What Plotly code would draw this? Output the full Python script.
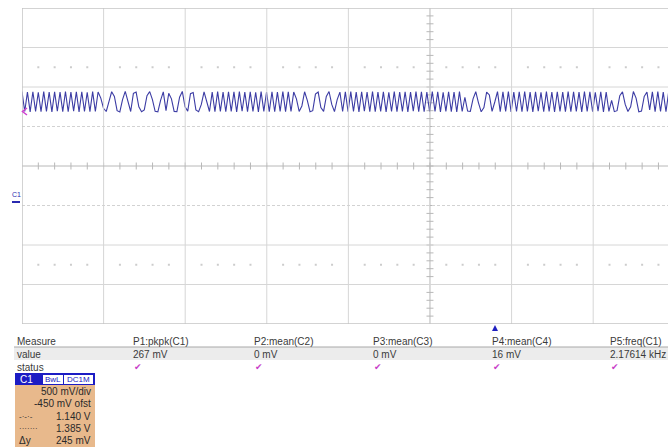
import numpy as np
import plotly.graph_objects as go

W, H = 668, 447

# ---- channel C1 acquisition (mV), one value per display sample ----
sample_step_div = 0.0333
c1_mv = [
    # fast section
    1392, 1140, 1386, 1136, 1390, 1142, 1384, 1138, 1391, 1141,
    1387, 1135, 1389, 1143, 1385, 1139, 1393, 1137, 1386, 1144,
    1388, 1136, 1390, 1141, 1384, 1138, 1391, 1140, 1387,
    # beat section
    1310, 1180, 1140, 1265, 1390, 1330, 1150, 1135, 1290, 1395,
    1250, 1140, 1370, 1385, 1200, 1138, 1160, 1340, 1392, 1290,
    1142, 1136, 1280, 1388, 1150, 1370, 1300, 1141, 1139, 1320,
    1394, 1200, 1145, 1365, 1380, 1160, 1137, 1230, 1389, 1260,
    1140,
    # fast section
    1386, 1139, 1391, 1142, 1385, 1137, 1390, 1141, 1388, 1135,
    1392, 1143, 1386, 1138, 1389, 1140, 1384, 1136, 1391, 1142,
    1387, 1139, 1390, 1137, 1385, 1141, 1393, 1138, 1388, 1140,
    1386,
    # beat section
    1300, 1140, 1210, 1390, 1280, 1137, 1150, 1360, 1386, 1190,
    1141, 1330, 1393, 1230, 1138, 1290, 1385, 1140,
    # fast section
    1388, 1138, 1391, 1141, 1385, 1136, 1390, 1143, 1387, 1139,
    1393, 1137, 1386, 1142, 1389, 1135, 1384, 1140, 1392, 1138,
    1387, 1141, 1390, 1136, 1385, 1143, 1391, 1139, 1388, 1137,
    1386, 1142, 1393, 1140, 1389, 1135, 1384, 1141, 1390, 1138,
    1387, 1136, 1392, 1140,
    # beat section
    1320, 1145, 1140, 1300, 1390, 1250, 1136, 1190, 1385, 1350,
    1142, 1260, 1391,
    # fast section
    1139, 1388, 1142, 1391, 1136, 1385, 1140, 1390, 1137, 1393,
    1141, 1386, 1135, 1389, 1143, 1384, 1138, 1392, 1140, 1387,
    1136, 1390, 1142, 1385, 1139, 1391, 1137, 1388, 1141, 1386,
    1135, 1393, 1140, 1389, 1138, 1384, 1143, 1390, 1136, 1387,
    1140,
    # beat section
    1280, 1138, 1150, 1340, 1388, 1230, 1140, 1200, 1392, 1310,
    1137, 1145, 1330, 1386, 1160,
    # fast section
    1389, 1138, 1392, 1141, 1386, 1137, 1390,
]

# channel settings
volts_per_div = 0.5
offset_v = -0.45
trigger_level_v = 1.14

# measurement panel
meas_labels = ["P1:pkpk(C1)", "P2:mean(C2)", "P3:mean(C3)", "P4:mean(C4)", "P5:freq(C1)"]
meas_values = ["267 mV", "0 mV", "0 mV", "16 mV", "2.17614 kHz"]
row_labels = ["Measure", "value", "status"]
c1_info = ["500 mV/div", "-450 mV ofst", "1.140 V", "1.385 V", "245 mV"]
c1_info_keys = ["", "", "-·-·-", "·······", "Δy"]

# ---- screen geometry ----
center_v = -offset_v
y_lo = center_v - 4 * volts_per_div
y_hi = center_v + 4 * volts_per_div
x_lo, x_hi = -5.0, 2.917


def px(x):
    return x / W


def py(y):
    return 1 - y / H


t = x_lo + sample_step_div * np.arange(len(c1_mv))
v = np.array(c1_mv) / 1000.0

GRID = "#d6d6d6"
AXC = "#b8b8b8"
FONT = "Liberation Sans"
TXT = "#3a3a3a"

fig = go.Figure()

# center-line subdivision ticks
sub_x = np.arange(x_lo + 0.2, x_hi, 0.2)
sub_y = np.arange(y_lo + 0.1, y_hi, 0.1)
fig.add_trace(go.Scatter(x=sub_x, y=[center_v] * len(sub_x), mode="markers",
                         marker=dict(symbol="line-ns", size=5, line=dict(width=1, color=AXC)),
                         hoverinfo="skip", showlegend=False))
fig.add_trace(go.Scatter(x=[0] * len(sub_y), y=sub_y, mode="markers",
                         marker=dict(symbol="line-ew", size=5, line=dict(width=1, color=AXC)),
                         hoverinfo="skip", showlegend=False))
# dotted rows at +-2.5 div
dot_x = [xx for xx in sub_x if abs(xx - round(xx)) > 0.05]
for yy in (center_v + 2.5 * volts_per_div, center_v - 2.5 * volts_per_div):
    fig.add_trace(go.Scatter(x=dot_x, y=[yy] * len(dot_x), mode="markers",
                             marker=dict(symbol="square", size=2, color="#cccccc", line=dict(width=0)),
                             hoverinfo="skip", showlegend=False))

# C1 waveform
fig.add_trace(go.Scatter(x=t, y=v, mode="lines",
                         line=dict(color="#3c3ca4", width=1.1),
                         hoverinfo="skip", showlegend=False))

shapes = []
# grid lines
for k in range(-4, 3):
    shapes.append(dict(type="line", xref="x", yref="y", x0=k, x1=k, y0=y_lo, y1=y_hi,
                       line=dict(color=AXC if k == 0 else GRID, width=1)))
for k in range(-3, 4):
    yy = center_v + k * volts_per_div
    if abs(k) == 1:
        shapes.append(dict(type="line", xref="x", yref="y", x0=x_lo, x1=x_hi, y0=yy, y1=yy,
                           line=dict(color="#d2d2d2", width=1, dash="3px,2px")))
    else:
        shapes.append(dict(type="line", xref="x", yref="y", x0=x_lo, x1=x_hi, y0=yy, y1=yy,
                           line=dict(color=AXC if k == 0 else GRID, width=1)))
# screen border (left, top, bottom)
for (x0, y0, x1, y1) in [(x_lo, y_lo, x_lo, y_hi), (x_lo, y_hi, x_hi, y_hi), (x_lo, y_lo, x_hi, y_lo)]:
    shapes.append(dict(type="line", xref="x", yref="y", x0=x0, x1=x1, y0=y0, y1=y1,
                       line=dict(color="#c4c4c4", width=1.5)))

# trigger level arrow on the left edge
trig_py = 166 - (trigger_level_v - center_v) / volts_per_div * 39.5
shapes.append(dict(type="path", xref="paper", yref="paper",
                   path=f"M {px(27)} {py(trig_py - 3.5)} L {px(22.5)} {py(trig_py)} L {px(27)} {py(trig_py + 3.5)}",
                   line=dict(color="#d040d0", width=1.5)))

# measurement table background
shapes.append(dict(type="rect", xref="paper", yref="paper", x0=px(14), x1=1, y0=py(360), y1=py(347),
                   fillcolor="#ececec", line=dict(width=0), layer="below"))
shapes.append(dict(type="line", xref="paper", yref="paper", x0=px(14), x1=1, y0=py(347), y1=py(347),
                   line=dict(color="#a8a8a8", width=1)))
# trigger position marker
shapes.append(dict(type="path", xref="paper", yref="paper",
                   path=f"M {px(492)} {py(331)} L {px(498)} {py(331)} L {px(495)} {py(325)} Z",
                   fillcolor="#2020c0", line=dict(width=0)))
# C1 descriptor box
shapes.append(dict(type="rect", xref="paper", yref="paper", x0=px(15), x1=px(95), y0=py(447), y1=py(385),
                   fillcolor="#e8b98c", line=dict(width=0)))
shapes.append(dict(type="rect", xref="paper", yref="paper", x0=px(15), x1=px(95), y0=py(385), y1=py(373),
                   fillcolor="#1c1cc4", line=dict(width=0)))
shapes.append(dict(type="rect", xref="paper", yref="paper", x0=px(43), x1=px(63), y0=py(384), y1=py(375),
                   fillcolor="white", line=dict(width=0)))
shapes.append(dict(type="rect", xref="paper", yref="paper", x0=px(64), x1=px(93), y0=py(384), y1=py(375),
                   fillcolor="white", line=dict(width=0)))
# ground reference marker
shapes.append(dict(type="line", xref="paper", yref="paper", x0=px(12), x1=px(20), y0=py(202), y1=py(202),
                   line=dict(color="#2a2ab0", width=2)))

ann = []


def text(x, y, s, size=10, color=TXT, anchor="left", family=FONT, **kw):
    ann.append(dict(xref="paper", yref="paper", x=px(x), y=py(y), text=s, showarrow=False,
                    xanchor=anchor, yanchor="middle",
                    font=dict(family=family, size=size, color=color), **kw))


col_x = [131, 252, 371, 490, 608]
for lbl, yy in zip(row_labels, [341, 354, 367]):
    text(15, yy, lbl)
for xx, lbl, val in zip(col_x, meas_labels, meas_values):
    text(xx, 341, lbl)
    text(xx, 354, val)
    text(xx + 1, 367, "✔", size=9, color="#c83cc8", family="DejaVu Sans")

# C1 box contents
text(18, 379, "C1", size=10, color="white")
text(53, 379.5, "BwL", size=8, color="#2020c0", anchor="center")
text(78.5, 379.5, "DC1M", size=8, color="#2020c0", anchor="center")
for yy, val, key in zip([391, 403.5, 416, 428.5, 440.5], c1_info, c1_info_keys):
    text(93, yy, val, color="#2a2a2a", anchor="right")
    if key:
        text(17, yy, key, size=8 if key != "Δy" else 10, color="#2a2a2a")

text(16, 195, "C1", size=7, color="#2a2ab0", anchor="center")

fig.update_layout(
    width=W, height=H,
    margin=dict(l=0, r=0, t=0, b=0),
    paper_bgcolor="white", plot_bgcolor="white",
    xaxis=dict(domain=[px(22), 1], range=[x_lo, x_hi], visible=False, fixedrange=True),
    yaxis=dict(domain=[py(324), py(8)], range=[y_lo, y_hi], visible=False, fixedrange=True),
    shapes=shapes, annotations=ann,
)

fig.write_html("out.html")
